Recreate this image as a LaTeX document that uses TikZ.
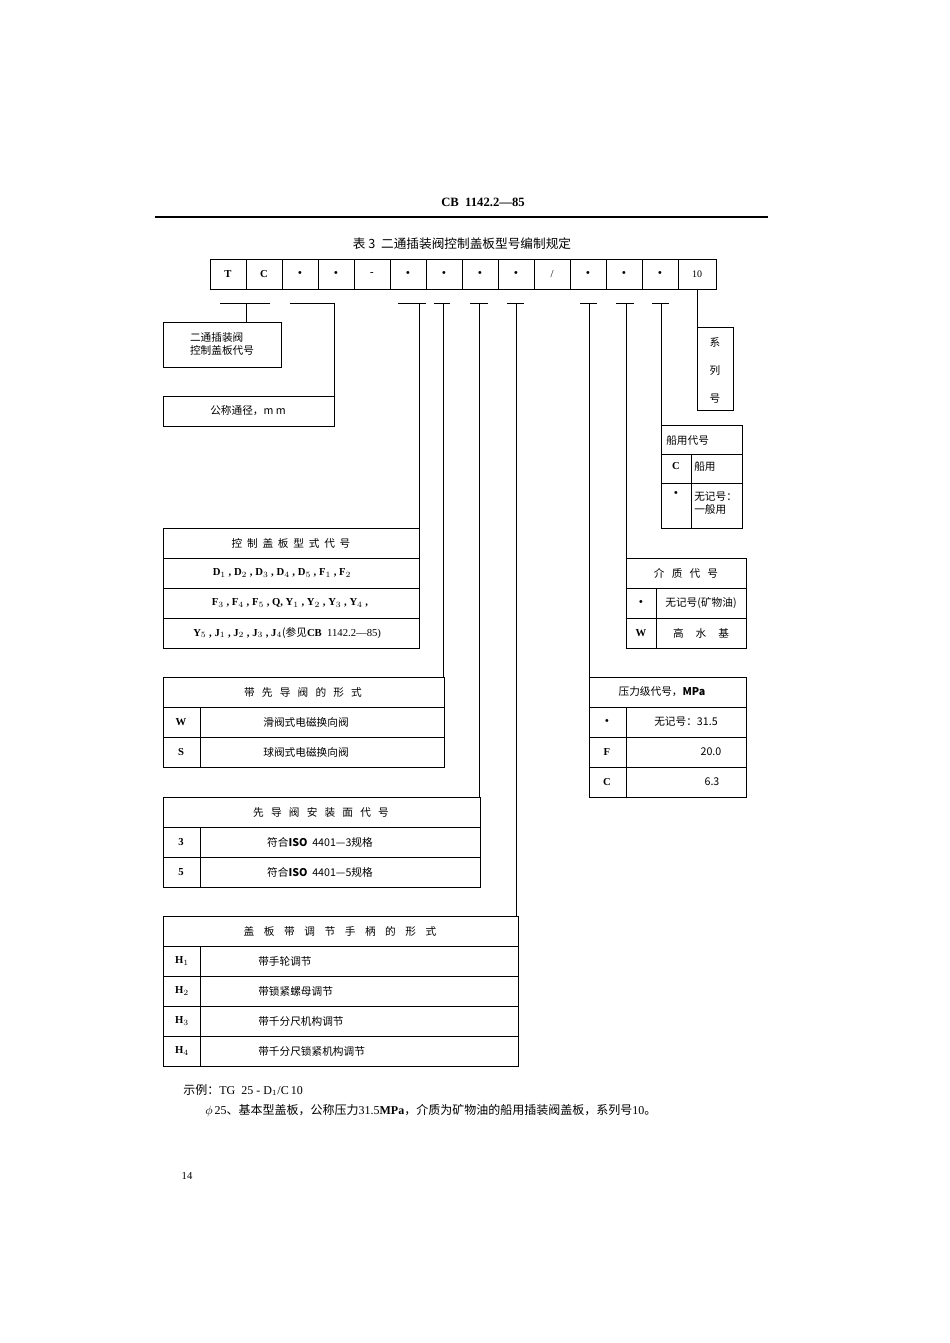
\documentclass[tikz,border=0pt]{standalone}
\usepackage{fontspec}
\setmainfont{Liberation Serif}
\newfontfamily\cjk{Noto Sans CJK SC}
\begin{document}
\begin{tikzpicture}[x=0.75pt,y=-0.75pt,
  txt/.style={inner sep=0pt,font=\fontsize{8}{10}\selectfont\cjk},
  lat/.style={inner sep=0pt,font=\fontsize{8}{10}\selectfont\bfseries},
  box/.style={line width=0.7pt},
  lnk/.style={line width=0.7pt}]
\useasboundingbox (0,0) rectangle (950,1343);
\node[inner sep=0pt,font=\fontsize{9.5}{11}\selectfont\bfseries] (hdr) at (483,202) {CB\ \ 1142.2—85};
\draw[line width=2.2pt] (155,217) -- (768,217);
\node[txt,font=\fontsize{9.5}{11}\selectfont\cjk] (title) at (462,244) {表 3\ \ 二通插装阀控制盖板型号编制规定};
% top code row
\foreach \i/\t in {0/T,1/C,2/•,3/•,4/-,5/•,6/•,7/•,8/•,10/•,11/•,12/•}{
  \draw[box] ({210+36*\i},259) rectangle ({246+36*\i},289);
  \node[lat] (c\i) at ({228+36*\i},274) {\t};
}
\draw[box] (534,259) rectangle (570,289);
\node[inner sep=0pt,font=\fontsize{8}{10}\selectfont] (c9) at (552,274) {/};
\draw[box] (678,259) rectangle (716,289);
\node[lat,font=\fontsize{7.5}{8}\selectfont] (c13) at (697,274) {10};
% left brackets
\draw[lnk] (220,303) -- (270,303); \draw[lnk] (246,303) -- (246,322);
\draw[box] (163,322) rectangle (281,367);
\node[txt,align=left] (b1) at (222,344) {二通插装阀\\控制盖板代号};
\draw[lnk] (290,303) -- (334,303) -- (334,396);
\draw[box] (163,396) rectangle (334,426);
\node[txt] (b2) at (248,411) {公称通径，m m};
% vertical leads
\draw[lnk] (398,303) -- (426,303); \draw[lnk] (419,303) -- (419,528);
\draw[lnk] (434,303) -- (450,303); \draw[lnk] (443,303) -- (443,677);
\draw[lnk] (470,303) -- (488,303); \draw[lnk] (479,303) -- (479,797);
\draw[lnk] (507,303) -- (524,303); \draw[lnk] (516,303) -- (516,916);
\draw[lnk] (580,303) -- (597,303); \draw[lnk] (589,303) -- (589,677);
\draw[lnk] (616,303) -- (634,303); \draw[lnk] (626,303) -- (626,558);
\draw[lnk] (652,303) -- (669,303); \draw[lnk] (661,303) -- (661,425);
\draw[lnk] (697,289) -- (697,327);
% series box
\draw[box] (697,327) rectangle (733,410);
\node[txt] (s1) at (715,342) {系};
\node[txt] (s2) at (715,370) {列};
\node[txt] (s3) at (715,399) {号};
% control cover type
\draw[box] (163,528) rectangle (419,648);
\foreach \y in {558,588,618} \draw[box] (163,\y) -- (419,\y);
\node[txt] (k1) at (291,543) {控\ \ 制\ \ 盖\ \ 板\ \ 型\ \ 式\ \ 代\ \ 号};
\node[lat] (k2) at (282,573) {D$_1$ , D$_2$ , D$_3$ , D$_4$ , D$_5$ , F$_1$ , F$_2$};
\node[lat] (k3) at (290,603) {F$_3$ , F$_4$ , F$_5$ , Q, Y$_1$ , Y$_2$ , Y$_3$ , Y$_4$ ,};
\node[lat,anchor=west] (k4) at (193,633) {Y$_5$ , J$_1$ , J$_2$ , J$_3$ , J$_4${\cjk\mdseries (参见}CB\ \ {\mdseries 1142.2—85)}};
% pilot valve form
\draw[box] (163,677) rectangle (444,767);
\foreach \y in {707,737} \draw[box] (163,\y) -- (444,\y);
\draw[box] (200,707) -- (200,767);
\node[txt] (p0) at (303,692) {带\ \ \ 先\ \ \ 导\ \ \ 阀\ \ \ 的\ \ \ 形\ \ \ 式};
\node[lat] (p1) at (181,722) {W};
\node[txt] (p2) at (306,722) {滑阀式电磁换向阀};
\node[lat] (p3) at (181,752) {S};
\node[txt] (p4) at (306,752) {球阀式电磁换向阀};
% mounting face
\draw[box] (163,797) rectangle (480,887);
\foreach \y in {827,857} \draw[box] (163,\y) -- (480,\y);
\draw[box] (200,827) -- (200,887);
\node[txt] (m0) at (321,812) {先\ \ \ 导\ \ \ 阀\ \ \ 安\ \ \ 装\ \ \ 面\ \ \ 代\ \ \ 号};
\node[lat] (m1) at (181,842) {3};
\node[txt] (m2) at (320,842) {符合\textbf{ISO}\ \ 4401—3规格};
\node[lat] (m3) at (181,872) {5};
\node[txt] (m4) at (320,872) {符合\textbf{ISO}\ \ 4401—5规格};
% handle
\draw[box] (163,916) rectangle (518,1066);
\foreach \y in {946,976,1006,1036} \draw[box] (163,\y) -- (518,\y);
\draw[box] (200,946) -- (200,1066);
\node[txt] (h0) at (340,931) {盖\ \ \ \ 板\ \ \ \ 带\ \ \ \ 调\ \ \ \ 节\ \ \ \ 手\ \ \ \ 柄\ \ \ \ 的\ \ \ \ 形\ \ \ \ 式};
\node[lat] (h1) at (182,961) {H$_1$};
\node[lat] (h2) at (182,991) {H$_2$};
\node[lat] (h3) at (182,1021) {H$_3$};
\node[lat] (h4) at (182,1051) {H$_4$};
\node[txt,anchor=west] (h5) at (258,961) {带手轮调节};
\node[txt,anchor=west] (h6) at (258,991) {带锁紧螺母调节};
\node[txt,anchor=west] (h7) at (258,1021) {带千分尺机构调节};
\node[txt,anchor=west] (h8) at (258,1051) {带千分尺锁紧机构调节};
% pressure
\draw[box] (589,677) rectangle (746,797);
\foreach \y in {707,737,767} \draw[box] (589,\y) -- (746,\y);
\draw[box] (626,707) -- (626,797);
\node[txt] (r0) at (662,692) {压力级代号，\textbf{MPa}};
\node[lat] (r1) at (607,722) {•};
\node[txt] (r2) at (686,722) {无记号：31.5};
\node[lat] (r3) at (607,752) {F};
\node[txt] (r4) at (711,752) {20.0};
\node[lat] (r5) at (607,782) {C};
\node[txt] (r6) at (712,782) {6.3};
% medium
\draw[box] (626,558) rectangle (746,648);
\foreach \y in {588,618} \draw[box] (626,\y) -- (746,\y);
\draw[box] (656,588) -- (656,648);
\node[txt] (d0) at (686,573) {介\ \ \ 质\ \ \ 代\ \ \ 号};
\node[lat] (d1) at (641,603) {•};
\node[txt] (d2) at (701,603) {无记号(矿物油)};
\node[lat] (d3) at (641,633) {W};
\node[txt] (d4) at (701,633) {高\ \ \ \ \ 水\ \ \ \ \ 基};
% marine
\draw[box] (661,425) rectangle (742,528);
\foreach \y in {454,483} \draw[box] (661,\y) -- (742,\y);
\draw[box] (691,454) -- (691,528);
\node[txt,anchor=west] (n0) at (666,440) {船用代号};
\node[lat] (n1) at (676,466) {C};
\node[txt,anchor=west] (n2) at (694,466) {船用};
\node[lat] (n3) at (676,494) {•};
\node[txt,anchor=west,align=left] (n4) at (694,503) {无记号：\\一般用};
% example
\node[inner sep=0pt,anchor=west,font=\fontsize{9}{11}\selectfont] (ex1) at (183,1090) {{\cjk 示例：}TG\ \ 25 - D$_1$/C\,10};
\node[inner sep=0pt,anchor=west,font=\fontsize{9}{11}\selectfont] (ex2) at (205,1111) {$\phi$\,25{\cjk 、基本型盖板，公称压力}31.5\textbf{MPa}{\cjk ，介质为矿物油的船用插装阀盖板，系列号}10{\cjk 。}};
\node[inner sep=0pt,font=\fontsize{8}{10}\selectfont] (pg) at (187,1176) {14};
\end{tikzpicture}
\end{document}
